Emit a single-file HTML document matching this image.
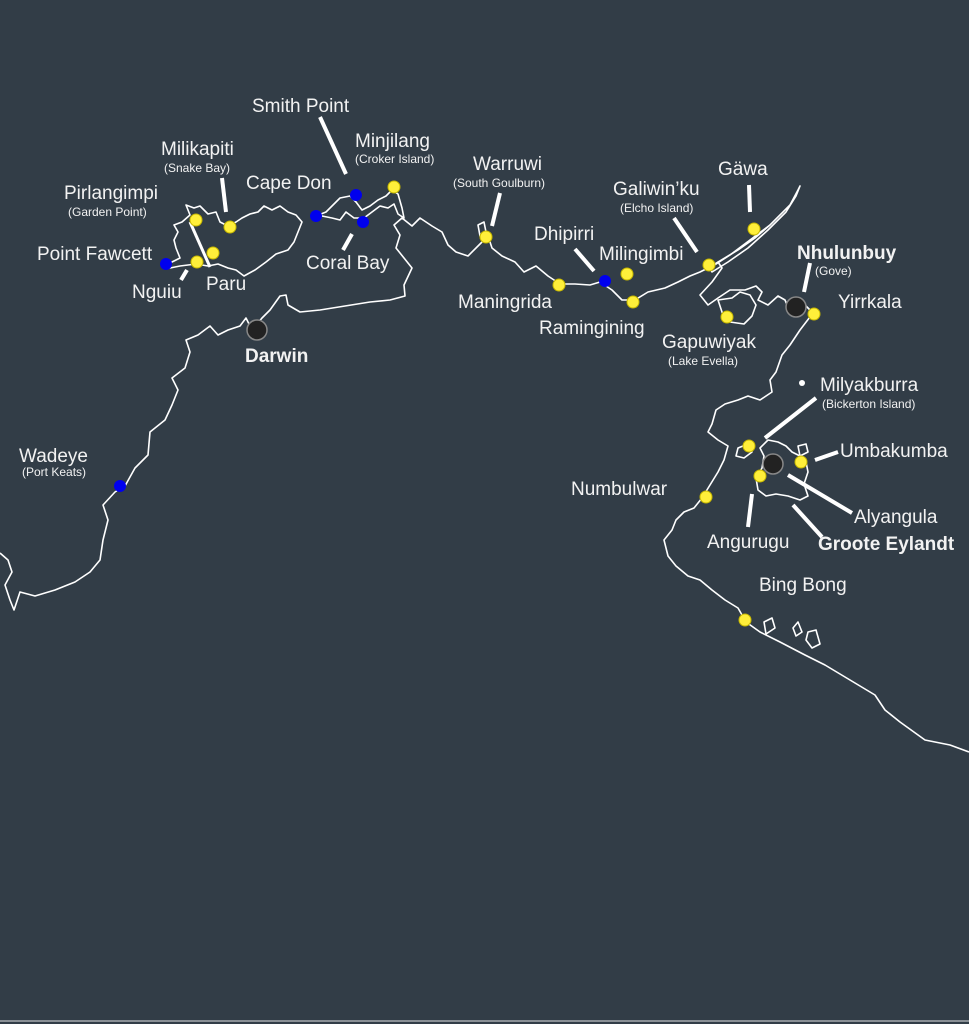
<!DOCTYPE html>
<html><head><meta charset="utf-8"><style>
html,body{margin:0;padding:0;background:#323d47;}
svg{display:block}
text{font-family:"Liberation Sans","DejaVu Sans",sans-serif;fill:#f2f2f2;}
.s{font-size:12px}
.l{font-size:19px}
.b{font-size:19px;font-weight:bold}
</style></head><body>
<svg width="969" height="1024" viewBox="0 0 969 1024">
<rect width="969" height="1024" fill="#323d47"/>
<line x1="0" y1="1021" x2="969" y2="1021" stroke="#8a9096" stroke-width="2"/>
<g fill="none" stroke="#fff" stroke-width="1.6" stroke-linejoin="round">
<path d="M0,553 L8,560 L12,572 L5,585 L10,600 L14,610 L20,592 L35,596 L55,590 L75,582 L90,572 L100,560 L103,540 L108,520 L103,505 L115,492 L125,486 L135,468 L148,455 L150,432 L165,420 L172,405 L178,390 L172,378 L185,368 L190,352 L186,340 L198,335 L210,326 L218,335 L228,330 L240,326 L246,318 L252,330 L262,318 L270,310 L280,296 L286,295 L288,305 L300,312 L320,310 L345,306 L370,302 L390,300 L405,296 L404,285 L412,268 L404,258 L396,248 L400,235 L394,225 L402,218 L412,226 L420,218 L432,226 L442,232 L448,245 L456,252 L468,256 L478,246 L488,236 L492,248 L502,256 L515,262 L524,272 L536,266 L548,276 L560,284 L575,284 L590,285 L600,282 L612,290 L622,300 L635,300 L648,292 L665,288 L678,282 L690,276 L700,272 L708,268 L718,262 L722,268 L712,282 L700,295 L708,305 L718,298 L730,290 L745,290 L756,286 L762,292 L758,300 L768,305 L778,296 L785,300 L790,312 L800,312 L806,306 L813,313 L800,330 L790,345 L782,355 L776,372 L770,380 L772,392 L760,400 L748,396 L738,400 L725,404 L716,410 L712,424 L708,432 L718,440 L728,446 L724,460 L718,472 L710,485 L702,498 L694,508 L684,512 L676,520 L672,530 L664,540 L668,556 L676,566 L688,576 L700,580 L712,590 L725,600 L738,608 L746,622 L760,632 L780,642 L805,655 L825,665 L850,680 L875,695 L885,710 L900,722 L925,740 L950,745 L969,752"/>
<path d="M165,264 L172,262 L180,258 L176,248 L174,240 L178,232 L174,225 L182,222 L190,215 L186,205 L194,208 L200,206 L208,214 L216,212 L220,222 L228,226 L236,222 L242,218 L250,214 L258,212 L264,206 L272,210 L280,206 L288,212 L296,215 L302,222 L298,232 L294,242 L288,250 L276,254 L266,262 L255,270 L244,276 L236,270 L228,268 L218,264 L208,266 L196,264 L180,266 L170,268 Z"/>
<line x1="190" y1="222" x2="210" y2="267" stroke-width="3"/>
<path d="M316,216 L326,212 L334,204 L340,198 L350,196 L356,202 L362,210 L370,206 L378,200 L386,196 L392,190 L398,194 L402,208 L404,218 L398,214 L394,204 L388,208 L380,206 L372,212 L364,218 L354,218 L346,212 L340,220 L332,218 L322,216 Z"/>
<path d="M710,268 L730,255 L750,240 L770,225 L790,205 L798,190 L800,186 L796,196 L786,212 L768,230 L748,248 L728,262 L712,272 Z"/>
<path d="M718,262 L738,250 L755,238 L770,225"/>
<path d="M718,300 L724,318 L730,322 L744,324 L752,316 L756,305 L750,295 L740,292 L732,298 Z"/>
<path d="M760,448 L768,440 L778,442 L786,446 L792,452 L800,456 L806,462 L808,472 L804,484 L808,496 L800,500 L788,496 L776,494 L766,496 L758,490 L756,478 L762,468 L764,456 Z"/>
<path d="M738,448 L748,444 L752,452 L744,458 L736,456 Z"/>
<path d="M798,446 L806,444 L808,452 L800,456 Z"/>
<path d="M764,622 L772,618 L775,628 L766,634 Z"/>
<path d="M793,628 L798,622 L802,632 L796,636 Z"/>
<path d="M808,632 L816,630 L820,644 L812,648 L806,640 Z"/>
<path d="M478,225 L484,222 L486,232 L480,236 Z"/>
</g>
<g stroke="#fff" stroke-width="4" stroke-linecap="butt">
<line x1="222" y1="178" x2="226" y2="212"/>
<line x1="320" y1="117" x2="346" y2="174"/>
<line x1="500" y1="193" x2="492" y2="226"/>
<line x1="352" y1="234" x2="343" y2="250"/>
<line x1="187" y1="270" x2="181" y2="280"/>
<line x1="575" y1="249" x2="594" y2="271"/>
<line x1="674" y1="218" x2="697" y2="252"/>
<line x1="749" y1="185" x2="750" y2="212"/>
<line x1="810" y1="263" x2="804" y2="292"/>
<line x1="816" y1="398" x2="765" y2="438"/>
<line x1="838" y1="452" x2="815" y2="460"/>
<line x1="852" y1="513" x2="788" y2="475"/>
<line x1="822" y1="537" x2="793" y2="505"/>
<line x1="752" y1="494" x2="748" y2="527"/>
</g>
<g fill="#ffef3a" stroke="#c7b800" stroke-width="1">
<circle cx="196" cy="220" r="6"/><circle cx="230" cy="227" r="6"/><circle cx="213" cy="253" r="6"/><circle cx="197" cy="262" r="6"/>
<circle cx="394" cy="187" r="6"/><circle cx="486" cy="237" r="6"/><circle cx="559" cy="285" r="6"/><circle cx="627" cy="274" r="6"/><circle cx="633" cy="302" r="6"/>
<circle cx="709" cy="265" r="6"/><circle cx="754" cy="229" r="6"/><circle cx="727" cy="317" r="6"/><circle cx="814" cy="314" r="6"/>
<circle cx="749" cy="446" r="6"/><circle cx="801" cy="462" r="6"/><circle cx="760" cy="476" r="6"/><circle cx="706" cy="497" r="6"/><circle cx="745" cy="620" r="6"/>
</g>
<g fill="#0000ee">
<circle cx="166" cy="264" r="6"/><circle cx="316" cy="216" r="6"/><circle cx="356" cy="195" r="6"/><circle cx="363" cy="222" r="6"/><circle cx="605" cy="281" r="6"/><circle cx="120" cy="486" r="6"/>
</g>
<g fill="#222" stroke="#888" stroke-width="1.5">
<circle cx="257" cy="330" r="10"/><circle cx="796" cy="307" r="10"/><circle cx="773" cy="464" r="10"/>
</g>
<circle cx="802" cy="383" r="3" fill="#fff"/>
<text class="l" x="252" y="112">Smith Point</text>
<text class="l" x="355" y="147">Minjilang</text>
<text class="s" x="355" y="163">(Croker Island)</text>
<text class="l" x="161" y="155">Milikapiti</text>
<text class="s" x="164" y="172">(Snake Bay)</text>
<text class="l" x="64" y="199">Pirlangimpi</text>
<text class="s" x="68" y="216">(Garden Point)</text>
<text class="l" x="246" y="189">Cape Don</text>
<text class="l" x="37" y="260">Point Fawcett</text>
<text class="l" x="132" y="298">Nguiu</text>
<text class="l" x="206" y="290">Paru</text>
<text class="l" x="306" y="269">Coral Bay</text>
<text class="b" x="245" y="362">Darwin</text>
<text class="l" x="473" y="170">Warruwi</text>
<text class="s" x="453" y="187">(South Goulburn)</text>
<text class="l" x="534" y="240">Dhipirri</text>
<text class="l" x="599" y="260">Milingimbi</text>
<text class="l" x="458" y="308">Maningrida</text>
<text class="l" x="539" y="334">Ramingining</text>
<text class="l" x="613" y="195">Galiwin’ku</text>
<text class="s" x="620" y="212">(Elcho Island)</text>
<text class="l" x="718" y="175">Gäwa</text>
<text class="b" x="797" y="259">Nhulunbuy</text>
<text class="s" x="815" y="275">(Gove)</text>
<text class="l" x="838" y="308">Yirrkala</text>
<text class="l" x="662" y="348">Gapuwiyak</text>
<text class="s" x="668" y="365">(Lake Evella)</text>
<text class="l" x="820" y="391">Milyakburra</text>
<text class="s" x="822" y="408">(Bickerton Island)</text>
<text class="l" x="840" y="457">Umbakumba</text>
<text class="l" x="571" y="495">Numbulwar</text>
<text class="l" x="854" y="523">Alyangula</text>
<text class="l" x="707" y="548">Angurugu</text>
<text class="b" x="818" y="550">Groote Eylandt</text>
<text class="l" x="759" y="591">Bing Bong</text>
<text class="l" x="19" y="462">Wadeye</text>
<text class="s" x="22" y="476">(Port Keats)</text>
</svg>
</body></html>
